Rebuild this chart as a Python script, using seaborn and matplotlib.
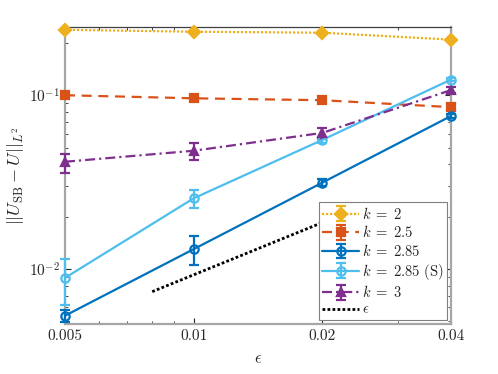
import numpy as np
import pandas as pd
import matplotlib
matplotlib.use("Agg")
import matplotlib.pyplot as plt
import matplotlib.ticker as mticker
import seaborn as sns

# data
eps = [0.005, 0.01, 0.02, 0.04]

k2 = [0.238, 0.232, 0.229, 0.209]
k2_err = [0.0, 0.0, 0.0, 0.0]

k25 = [0.100, 0.096, 0.0936, 0.0854]
k25_err = [0.0, 0.0, 0.0, 0.0]

k285 = [0.00538, 0.0130, 0.0314, 0.0759]
k285_lo = [0.00045, 0.0025, 0.0015, 0.0018]
k285_hi = [0.00045, 0.0025, 0.0015, 0.0018]

k285s = [0.00888, 0.0255, 0.0553, 0.123]
k285s_lo = [0.0027, 0.0032, 0.002, 0.003]
k285s_hi = [0.0025, 0.0031, 0.002, 0.003]

k3 = [0.0414, 0.0479, 0.0607, 0.107]
k3_lo = [0.0056, 0.0054, 0.0047, 0.004]
k3_hi = [0.0047, 0.0053, 0.0041, 0.004]

eps_ref_x = [0.008, 0.02]
eps_ref_y = [0.0074, 0.0185]

xtick_vals = [0.005, 0.01, 0.02, 0.04]
xtick_labels = ["0.005", "0.01", "0.02", "0.04"]

sns.set_style("ticks")
plt.rcParams["font.family"] = ["serif"]
plt.rcParams["font.serif"] = ["cmr10", "DejaVu Serif"]
plt.rcParams["mathtext.fontset"] = "cm"
plt.rcParams["axes.formatter.use_mathtext"] = True
plt.rcParams["axes.unicode_minus"] = False

fig = plt.figure(figsize=(4.98, 3.74), dpi=100)
ax = fig.add_axes([0.1305, 0.1337, 0.7751, 0.7941])

series = [
    (k2, [k2_err, k2_err], "#EDB120", (0, (1, 0.8)), "D", r"$k\;=\;2$", True),
    (k25, [k25_err, k25_err], "#D95319", (0, (4.5, 3)), "s", r"$k\;=\;2.5$", True),
    (k285, [k285_lo, k285_hi], "#0072BD", "-", "o", r"$k\;=\;2.85$", False),
    (k285s, [k285s_lo, k285s_hi], "#4DBEEE", "-", "o", r"$k\;=\;2.85$ (S)", False),
    (k3, [k3_lo, k3_hi], "#7E2F8E", (0, (4.5, 1.8, 1, 1.8)), "^", r"$k\;=\;3$", True),
]

handles = []
for vals, err, col, ls, mk, lab, filled in series:
    h = ax.errorbar(eps, vals, yerr=err, color=col, ls=ls, lw=1.6,
                    marker=mk, ms=6, mew=1.6,
                    mfc=col if filled else "none", mec=col,
                    capsize=3.5, capthick=1.6, elinewidth=1.6,
                    label=lab, clip_on=False, zorder=3)
    handles.append(h)

ref = pd.DataFrame({"x": eps_ref_x, "y": eps_ref_y})
sns.lineplot(data=ref, x="x", y="y", ax=ax, color="black", ls=(0, (1, 0.8)), lw=2,
             label=r"$\epsilon$")
ref_line = ax.get_lines()[-1]

ax.set_xscale("log")
ax.set_yscale("log")
ax.set_xlim(0.005, 0.04)
ax.set_ylim(0.00482, 0.247)

ax.xaxis.set_major_locator(mticker.FixedLocator(xtick_vals))
ax.xaxis.set_major_formatter(mticker.FixedFormatter(xtick_labels))
ax.xaxis.set_minor_locator(mticker.LogLocator(base=10, subs=np.arange(2, 10) * 1.0, numticks=20))
ax.xaxis.set_minor_formatter(mticker.NullFormatter())
ax.yaxis.set_major_locator(mticker.LogLocator(base=10, numticks=10))
ax.yaxis.set_minor_locator(mticker.LogLocator(base=10, subs=np.arange(2, 10) * 1.0, numticks=20))
ax.yaxis.set_minor_formatter(mticker.NullFormatter())

ax.tick_params(which="both", direction="in", top=True, right=True,
               labelsize=11, colors="#262626", labelcolor="#262626")
ax.tick_params(which="major", length=4, width=0.8)
ax.tick_params(which="minor", length=2.5, width=0.6)

for side in ["left", "right", "bottom"]:
    ax.spines[side].set_color("#a6a6a6")
    ax.spines[side].set_linewidth(1.6)
ax.spines["top"].set_color("#404040")
ax.spines["top"].set_linewidth(0.9)

ax.set_xlabel(r"$\epsilon$", fontsize=12, labelpad=6)
ax.set_ylabel(r"$||U_{\mathrm{SB}} - U||_{L^2}$", fontsize=13, labelpad=2)

leg = ax.legend(handles + [ref_line], [s[5] for s in series] + [r"$\epsilon$"],
                loc="lower right", fontsize=10.5, frameon=True, fancybox=False,
                edgecolor="#808080", framealpha=1, handlelength=2.5,
                handletextpad=0.2, borderpad=0.25, labelspacing=0.18,
                borderaxespad=0.25)
leg.get_frame().set_linewidth(0.8)

fig.savefig("out.png", dpi=100)
